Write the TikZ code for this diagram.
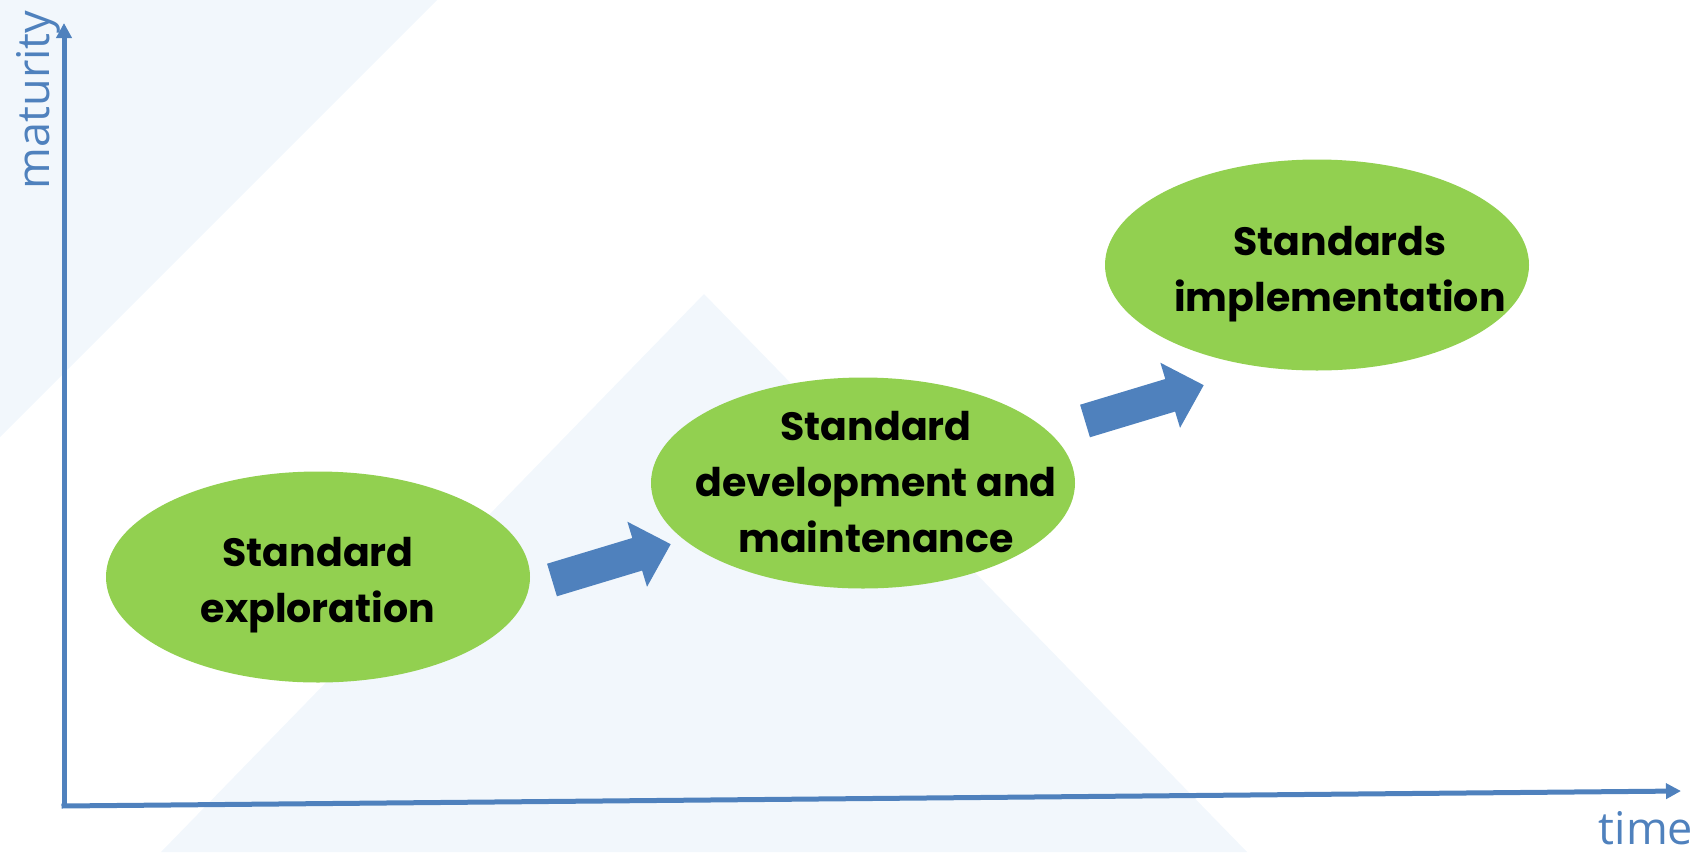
\documentclass[tikz,border=0pt]{standalone}
\usepackage{fontspec}
\setmainfont{Poppins}
\newfontfamily\axisfont{Open Sans}
\usetikzlibrary{arrows.meta,shapes.geometric}
\definecolor{axisblue}{HTML}{4F81BD}
\definecolor{stagegreen}{HTML}{92D050}
\definecolor{bgblue}{HTML}{F2F7FC}
\tikzset{
  axisline/.style={draw=axisblue,line width=5pt,-{Triangle[length=15pt,width=15pt]}},
  stage/.style={ellipse,fill=stagegreen,draw=none,minimum width=424pt,minimum height=211pt,inner sep=0pt},
  stagetext/.style={align=center,font=\fontsize{39.5}{56}\selectfont\bfseries,text=black,inner sep=0pt},
  axislabel/.style={text=axisblue,font=\axisfont\fontsize{45}{50}\selectfont,inner sep=0pt},
  blockarrow/.style={fill=axisblue,draw=none}
}
\begin{document}
\begin{tikzpicture}[x=1pt,y=-1pt]
\useasboundingbox (0,0) rectangle (1703,852);
% background triangles
\fill[bgblue] (0,0) -- (437,0) -- (0,437) -- cycle;
\fill[bgblue] (704,294) -- (1247,852) -- (161,852) -- cycle;
% axes
\coordinate (O) at (64,806);
\coordinate (ytop) at (64,23);
\coordinate (xend) at (1681,791);
\draw[axisline] (O) -- (ytop);
\draw[axisline] ([xshift=-2.5pt]O) -- (xend);
\node[axislabel,rotate=90] (maturity) at (38,100) {maturity};
\node[axislabel] (time) at (1646,828) {time};
% stages
\node[stage] (e1) at (318,577) {};
\node[stage] (e2) at (863,483) {};
\node[stage] (e3) at (1317,265) {};
\node[stagetext] (t1) at (318,585) {Standard\\exploration};
\node[stagetext] (t2) at (876,482) {Standard\\development and\\maintenance};
\node[stagetext] (t3) at (1340,274) {Standards\\implementation};
% block arrows
\begin{scope}[shift={(552,580)},rotate=16.8]
\fill[blockarrow] (0,-17) -- (89,-17) -- (89,-34) -- (124,0) -- (89,34) -- (89,17) -- (0,17) -- cycle;
\end{scope}
\begin{scope}[shift={(1085,421)},rotate=16.8]
\fill[blockarrow] (0,-17) -- (89,-17) -- (89,-34) -- (124,0) -- (89,34) -- (89,17) -- (0,17) -- cycle;
\end{scope}
\end{tikzpicture}
\end{document}
